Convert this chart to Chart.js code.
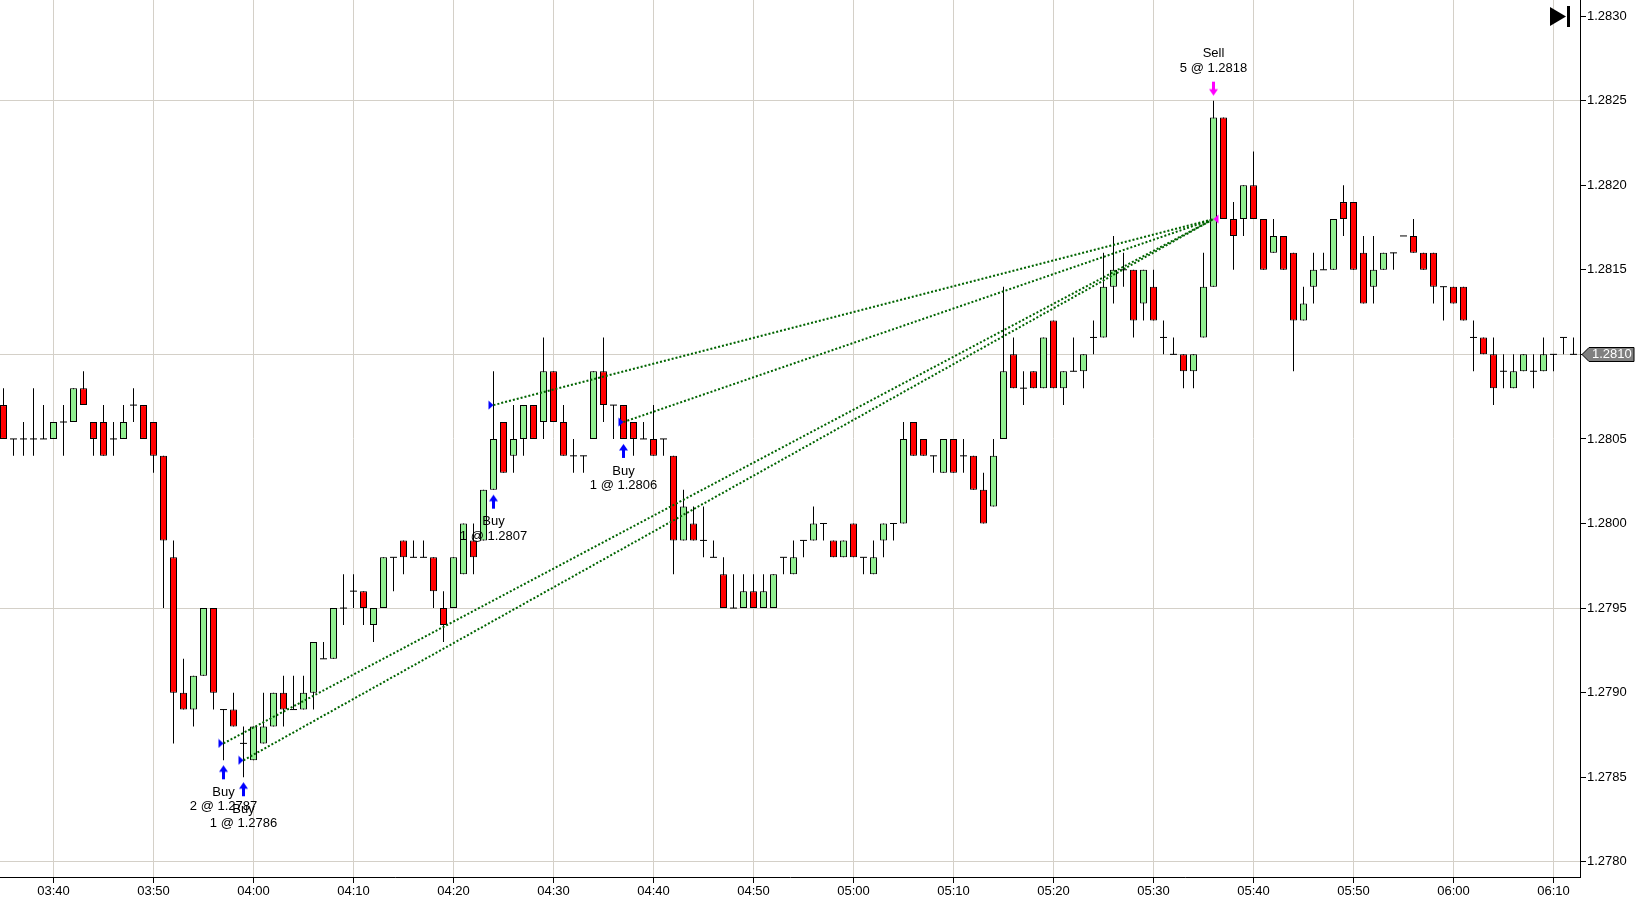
<!DOCTYPE html>
<html>
<head>
<meta charset="utf-8">
<script src="https://cdn.jsdelivr.net/npm/chart.js@4.4.1/dist/chart.umd.min.js"></script>
<style>
  html, body { margin: 0; padding: 0; background: #fff; overflow: hidden; }
  #wrap { width: 1639px; height: 909px; }
</style>
</head>
<body>
<div id="wrap"><canvas id="chart"></canvas></div>
<script>
// one-minute bars, 03:35 .. 06:12
const times = [
  "03:35","03:36","03:37","03:38","03:39",
  "03:40","03:41","03:42","03:43","03:44","03:45","03:46","03:47","03:48","03:49",
  "03:50","03:51","03:52","03:53","03:54","03:55","03:56","03:57","03:58","03:59",
  "04:00","04:01","04:02","04:03","04:04","04:05","04:06","04:07","04:08","04:09",
  "04:10","04:11","04:12","04:13","04:14","04:15","04:16","04:17","04:18","04:19",
  "04:20","04:21","04:22","04:23","04:24","04:25","04:26","04:27","04:28","04:29",
  "04:30","04:31","04:32","04:33","04:34","04:35","04:36","04:37","04:38","04:39",
  "04:40","04:41","04:42","04:43","04:44","04:45","04:46","04:47","04:48","04:49",
  "04:50","04:51","04:52","04:53","04:54","04:55","04:56","04:57","04:58","04:59",
  "05:00","05:01","05:02","05:03","05:04","05:05","05:06","05:07","05:08","05:09",
  "05:10","05:11","05:12","05:13","05:14","05:15","05:16","05:17","05:18","05:19",
  "05:20","05:21","05:22","05:23","05:24","05:25","05:26","05:27","05:28","05:29",
  "05:30","05:31","05:32","05:33","05:34","05:35","05:36","05:37","05:38","05:39",
  "05:40","05:41","05:42","05:43","05:44","05:45","05:46","05:47","05:48","05:49",
  "05:50","05:51","05:52","05:53","05:54","05:55","05:56","05:57","05:58","05:59",
  "06:00","06:01","06:02","06:03","06:04","06:05","06:06","06:07","06:08","06:09",
  "06:10","06:11","06:12"
];

const open = [
  1.2807,1.2805,1.2805,1.2805,1.2805,1.2805,1.2806,1.2806,1.2808,1.2806,
  1.2806,1.2805,1.2805,1.2807,1.2807,1.2806,1.2804,1.2798,1.2790,1.2789,
  1.2791,1.2795,1.2789,1.2789,1.2787,1.2786,1.2787,1.2788,1.2790,1.2789,
  1.2789,1.2790,1.2792,1.2792,1.2795,1.2796,1.2796,1.2794,1.2795,1.2798,
  1.2799,1.2798,1.2798,1.2798,1.2795,1.2795,1.2797,1.2799,1.2799,1.2802,
  1.2806,1.2804,1.2805,1.2807,1.2806,1.2809,1.2806,1.2804,1.2804,1.2805,
  1.2809,1.2807,1.2807,1.2806,1.2805,1.2805,1.2805,1.2804,1.2799,1.2800,
  1.2799,1.2798,1.2797,1.2795,1.2795,1.2796,1.2795,1.2795,1.2798,1.2797,
  1.2799,1.2799,1.2800,1.2799,1.2798,1.2800,1.2798,1.2797,1.2799,1.2800,
  1.2800,1.2806,1.2805,1.2804,1.2803,1.2805,1.2804,1.2804,1.2802,1.2801,
  1.2805,1.2810,1.2808,1.2809,1.2808,1.2812,1.2808,1.2809,1.2809,1.2811,
  1.2811,1.2814,1.2815,1.2815,1.2813,1.2814,1.2811,1.2810,1.2810,1.2809,
  1.2811,1.2814,1.2824,1.2818,1.2818,1.2820,1.2818,1.2816,1.2817,1.2816,
  1.2812,1.2814,1.2815,1.2815,1.2819,1.2819,1.2816,1.2814,1.2815,1.2816,
  1.2817,1.2817,1.2816,1.2816,1.2814,1.2814,1.2814,1.2811,1.2811,1.2810,
  1.2809,1.2808,1.2809,1.2809,1.2809,1.2810,1.2811,1.2810
];
const high = [
  1.2808,1.2805,1.2806,1.2808,1.2807,1.2806,1.2807,1.2808,1.2809,1.2806,
  1.2807,1.2806,1.2807,1.2808,1.2807,1.2806,1.2804,1.2799,1.2792,1.2791,
  1.2795,1.2795,1.2789,1.2790,1.2788,1.2788,1.2790,1.2790,1.2791,1.2791,
  1.2791,1.2793,1.2793,1.2795,1.2797,1.2797,1.2796,1.2795,1.2798,1.2798,
  1.2799,1.2799,1.2799,1.2798,1.2796,1.2798,1.2800,1.2800,1.2802,1.2809,
  1.2806,1.2807,1.2807,1.2807,1.2811,1.2809,1.2807,1.2805,1.2804,1.2809,
  1.2811,1.2807,1.2807,1.2806,1.2806,1.2807,1.2805,1.2804,1.2802,1.2801,
  1.2801,1.2799,1.2798,1.2797,1.2797,1.2797,1.2797,1.2797,1.2798,1.2799,
  1.2799,1.2801,1.2800,1.2799,1.2799,1.2800,1.2798,1.2799,1.2800,1.2800,
  1.2806,1.2806,1.2805,1.2804,1.2805,1.2805,1.2805,1.2804,1.2803,1.2805,
  1.2814,1.2811,1.2809,1.2809,1.2811,1.2812,1.2809,1.2811,1.2810,1.2812,
  1.2816,1.2817,1.2816,1.2815,1.2815,1.2815,1.2812,1.2811,1.2810,1.2810,
  1.2816,1.2825,1.2824,1.2819,1.2820,1.2822,1.2818,1.2818,1.2817,1.2816,
  1.2814,1.2816,1.2816,1.2818,1.2820,1.2819,1.2817,1.2817,1.2816,1.2816,
  1.2817,1.2818,1.2816,1.2816,1.2814,1.2814,1.2814,1.2812,1.2811,1.2811,
  1.2810,1.2810,1.2810,1.2810,1.2811,1.2810,1.2811,1.2811
];
const low = [
  1.2805,1.2804,1.2804,1.2804,1.2805,1.2805,1.2804,1.2806,1.2807,1.2804,
  1.2804,1.2804,1.2805,1.2806,1.2805,1.2803,1.2795,1.2787,1.2789,1.2788,
  1.2791,1.2789,1.2786,1.2788,1.2785,1.2786,1.2787,1.2788,1.2788,1.2789,
  1.2789,1.2789,1.2792,1.2792,1.2794,1.2795,1.2794,1.2793,1.2795,1.2796,
  1.2797,1.2798,1.2798,1.2795,1.2793,1.2795,1.2797,1.2797,1.2799,1.2802,
  1.2803,1.2803,1.2804,1.2805,1.2805,1.2806,1.2804,1.2803,1.2803,1.2805,
  1.2806,1.2805,1.2805,1.2804,1.2805,1.2804,1.2804,1.2797,1.2799,1.2799,
  1.2798,1.2798,1.2795,1.2795,1.2795,1.2795,1.2795,1.2795,1.2797,1.2797,
  1.2798,1.2799,1.2799,1.2798,1.2798,1.2798,1.2797,1.2797,1.2798,1.2799,
  1.2800,1.2804,1.2804,1.2803,1.2803,1.2803,1.2803,1.2802,1.2800,1.2801,
  1.2805,1.2808,1.2807,1.2808,1.2808,1.2808,1.2807,1.2809,1.2808,1.2810,
  1.2811,1.2813,1.2814,1.2811,1.2812,1.2812,1.2810,1.2810,1.2808,1.2808,
  1.2811,1.2814,1.2818,1.2815,1.2817,1.2818,1.2815,1.2816,1.2815,1.2809,
  1.2812,1.2813,1.2815,1.2815,1.2817,1.2815,1.2813,1.2813,1.2815,1.2815,
  1.2817,1.2816,1.2815,1.2813,1.2812,1.2813,1.2812,1.2809,1.2810,1.2807,
  1.2808,1.2808,1.2809,1.2808,1.2809,1.2809,1.2810,1.2810
];
const close = [
  1.2805,1.2805,1.2805,1.2805,1.2805,1.2806,1.2806,1.2808,1.2807,1.2805,
  1.2804,1.2805,1.2806,1.2807,1.2805,1.2804,1.2799,1.2790,1.2789,1.2791,
  1.2795,1.2790,1.2789,1.2788,1.2787,1.2788,1.2788,1.2790,1.2789,1.2789,
  1.2790,1.2793,1.2792,1.2795,1.2795,1.2796,1.2795,1.2795,1.2798,1.2798,
  1.2798,1.2798,1.2798,1.2796,1.2794,1.2798,1.2800,1.2798,1.2802,1.2805,
  1.2803,1.2805,1.2807,1.2805,1.2809,1.2806,1.2804,1.2804,1.2804,1.2809,
  1.2807,1.2807,1.2805,1.2805,1.2805,1.2804,1.2805,1.2799,1.2801,1.2799,
  1.2799,1.2798,1.2795,1.2795,1.2796,1.2795,1.2796,1.2797,1.2798,1.2798,
  1.2799,1.2800,1.2800,1.2798,1.2799,1.2798,1.2798,1.2798,1.2800,1.2800,
  1.2805,1.2804,1.2804,1.2804,1.2805,1.2803,1.2804,1.2802,1.2800,1.2804,
  1.2809,1.2808,1.2808,1.2808,1.2811,1.2808,1.2809,1.2809,1.2810,1.2811,
  1.2814,1.2815,1.2815,1.2812,1.2815,1.2812,1.2811,1.2810,1.2809,1.2810,
  1.2814,1.2824,1.2818,1.2817,1.2820,1.2818,1.2815,1.2817,1.2815,1.2812,
  1.2813,1.2815,1.2815,1.2818,1.2818,1.2815,1.2813,1.2815,1.2816,1.2816,
  1.2817,1.2816,1.2815,1.2814,1.2814,1.2813,1.2812,1.2811,1.2810,1.2808,
  1.2809,1.2809,1.2810,1.2809,1.2810,1.2810,1.2811,1.2810
];

// trades
const entryTimes = ["03:57", "03:59", "04:24", "04:37"];
const entryPrices = [1.2787, 1.2786, 1.2807, 1.2806];
const entryQty = [2, 1, 1, 1];
const exitTime = "05:36";
const exitPrice = 1.2818;
const exitQty = 5;

const xTickLabels = ["03:40","03:50","04:00","04:10","04:20","04:30","04:40","04:50",
                     "05:00","05:10","05:20","05:30","05:40","05:50","06:00","06:10"];
const yTickLabels = ["1.2780","1.2785","1.2790","1.2795","1.2800","1.2805",
                     "1.2810","1.2815","1.2820","1.2825","1.2830"];
const yGridLabels = ["1.2780","1.2795","1.2810","1.2825"];

const UP = "#90EE90", DOWN = "#FF0000", GRID = "#D4D0C8";
const FONT = '"Liberation Sans", Arial, sans-serif';

const entryIdx = entryTimes.map((t) => times.indexOf(t));
const exitIdx = times.indexOf(exitTime);
const yGridValues = yGridLabels.map(Number);

// little marker images
function arrowImage(color, up) {
  const c = document.createElement("canvas");
  c.width = 9;
  c.height = 40;
  const g = c.getContext("2d");
  g.fillStyle = color;
  g.beginPath();
  if (up) {
    g.moveTo(4.5, 25);
    g.lineTo(9, 31.5);
    g.lineTo(0, 31.5);
    g.closePath();
    g.fill();
    g.fillRect(3, 31, 3, 8);
  } else {
    g.fillRect(3, 1, 3, 8);
    g.moveTo(0, 8.5);
    g.lineTo(9, 8.5);
    g.lineTo(4.5, 15);
    g.closePath();
    g.fill();
  }
  return c;
}

function triangleImage(color, pointRight) {
  const c = document.createElement("canvas");
  c.width = 11;
  c.height = 10;
  const g = c.getContext("2d");
  g.fillStyle = color;
  g.beginPath();
  if (pointRight) {
    g.moveTo(0.5, 0.5);
    g.lineTo(5.5, 5);
    g.lineTo(0.5, 9.5);
  } else {
    g.moveTo(10.5, 0.5);
    g.lineTo(5.5, 5);
    g.lineTo(10.5, 9.5);
  }
  g.closePath();
  g.fill();
  return c;
}

const wickData = times.map((t, i) => ({ x: i, y: [low[i], high[i]] }));
const bodyData = times.map((t, i) => ({
  x: i,
  y: open[i] === close[i] ? null : [open[i], close[i]],
}));
const bodyColors = times.map((t, i) => (close[i] >= open[i] ? UP : DOWN));
const dojiData = times
  .map((t, i) => ({ x: i, y: open[i] }))
  .filter((p) => open[p.x] === close[p.x]);

const tradeLines = entryIdx.map((idx, k) => ({
  type: "line",
  data: [
    { x: idx, y: entryPrices[k] },
    { x: exitIdx, y: exitPrice },
  ],
  borderColor: "#006400",
  borderWidth: 2,
  borderDash: [2, 2],
  pointRadius: 0,
  fill: false,
  order: 2,
}));

const overlay = {
  id: "overlay",
  afterDatasetsDraw(chart) {
    const { ctx } = chart;
    const x = chart.scales.x, y = chart.scales.y;
    ctx.save();
    ctx.font = "13px " + FONT;
    ctx.fillStyle = "#000";
    ctx.textAlign = "center";
    ctx.textBaseline = "middle";
    entryIdx.forEach((idx, k) => {
      const px = x.getPixelForValue(idx);
      const py = y.getPixelForValue(low[idx]);
      ctx.fillText("Buy", px, py + 32);
      ctx.fillText(entryQty[k] + " @ " + entryPrices[k].toFixed(4), px, py + 46.5);
    });
    const sx = x.getPixelForValue(exitIdx);
    const sy = y.getPixelForValue(high[exitIdx]);
    ctx.fillText(exitQty + " @ " + exitPrice.toFixed(4), sx, sy - 32.5);
    ctx.fillText("Sell", sx, sy - 47.5);
    ctx.restore();
  },
  afterDraw(chart) {
    const { ctx, chartArea } = chart;
    const y = chart.scales.y;
    ctx.save();
    // last price marker
    const last = close[close.length - 1];
    const ly = Math.round(y.getPixelForValue(last)) + 0.5;
    const bx = chartArea.right + 2;
    ctx.beginPath();
    ctx.moveTo(bx, ly);
    ctx.lineTo(bx + 7, ly - 7);
    ctx.lineTo(bx + 52, ly - 7);
    ctx.lineTo(bx + 52, ly + 7);
    ctx.lineTo(bx + 7, ly + 7);
    ctx.closePath();
    ctx.fillStyle = "#808080";
    ctx.fill();
    ctx.strokeStyle = "#000";
    ctx.lineWidth = 1;
    ctx.stroke();
    ctx.fillStyle = "#fff";
    ctx.font = "13px " + FONT;
    ctx.textAlign = "left";
    ctx.textBaseline = "middle";
    ctx.fillText(last.toFixed(4), bx + 10, ly);
    // "go to end" icon
    ctx.fillStyle = "#000";
    ctx.beginPath();
    ctx.moveTo(1550, 7);
    ctx.lineTo(1566, 16.5);
    ctx.lineTo(1550, 26);
    ctx.closePath();
    ctx.fill();
    ctx.fillRect(1567, 6, 3, 21);
    ctx.restore();
  },
};

new Chart(document.getElementById("chart"), {
  data: {
    datasets: [
      {
        type: "bar",
        data: wickData,
        backgroundColor: "#000",
        borderWidth: 0,
        barThickness: 1,
        grouped: false,
        inflateAmount: 0,
        order: 5,
      },
      {
        type: "bar",
        data: bodyData,
        backgroundColor: bodyColors,
        borderColor: "#000",
        borderWidth: 1,
        borderSkipped: false,
        barThickness: 7,
        grouped: false,
        inflateAmount: 0,
        order: 4,
      },
      {
        type: "line",
        data: dojiData,
        showLine: false,
        pointStyle: "line",
        pointRadius: 3.5,
        pointBorderWidth: 1,
        pointBorderColor: "#000",
        order: 4,
      },
      ...tradeLines,
      {
        type: "line",
        data: entryIdx.map((idx, k) => ({ x: idx, y: entryPrices[k] })),
        showLine: false,
        pointStyle: triangleImage("#0000FF", true),
        order: 1,
      },
      {
        type: "line",
        data: [{ x: exitIdx, y: exitPrice }],
        showLine: false,
        pointStyle: triangleImage("#FF00FF", false),
        order: 1,
      },
      {
        type: "line",
        data: entryIdx.map((idx) => ({ x: idx, y: low[idx] })),
        showLine: false,
        pointStyle: arrowImage("#0000FF", true),
        order: 1,
      },
      {
        type: "line",
        data: [{ x: exitIdx, y: high[exitIdx] }],
        showLine: false,
        pointStyle: arrowImage("#FF00FF", false),
        order: 1,
      },
    ],
  },
  options: {
    responsive: true,
    maintainAspectRatio: false,
    devicePixelRatio: 1,
    animation: false,
    events: [],
    layout: { padding: 0, autoPadding: false },
    plugins: {
      legend: { display: false },
      tooltip: { enabled: false },
    },
    scales: {
      x: {
        type: "linear",
        offset: false,
        min: -0.35,
        max: 157.65,
        afterBuildTicks: (scale) => {
          scale.ticks = xTickLabels.map((l) => ({ value: times.indexOf(l) }));
        },
        afterFit: (scale) => {
          scale.height = 32;
          scale.paddingLeft = 0;
          scale.paddingRight = 0;
        },
        ticks: {
          autoSkip: false,
          maxRotation: 0,
          padding: 1,
          color: "#000",
          font: { family: FONT, size: 13 },
          callback: (v) => times[v],
        },
        grid: { offset: false, color: GRID, tickColor: "#000", tickLength: 6 },
        border: { display: true, color: "#000", width: 1 },
      },
      y: {
        type: "linear",
        position: "right",
        min: 1.27791,
        max: 1.283095,
        afterBuildTicks: (scale) => {
          scale.ticks = yTickLabels.map((l) => ({ value: Number(l) }));
        },
        afterFit: (scale) => {
          scale.width = 59;
          scale.paddingTop = 0;
          scale.paddingBottom = 0;
        },
        ticks: {
          autoSkip: false,
          padding: 1,
          color: "#000",
          font: { family: FONT, size: 13 },
          callback: (v) => v.toFixed(4),
        },
        grid: {
          color: (ctx) =>
            ctx.tick && yGridValues.some((g) => Math.abs(g - ctx.tick.value) < 1e-7)
              ? GRID
              : "rgba(0,0,0,0)",
          tickColor: "#000",
          tickLength: 6,
        },
        border: { display: true, color: "#000", width: 1 },
      },
    },
  },
  plugins: [overlay],
});
</script>
</body>
</html>
